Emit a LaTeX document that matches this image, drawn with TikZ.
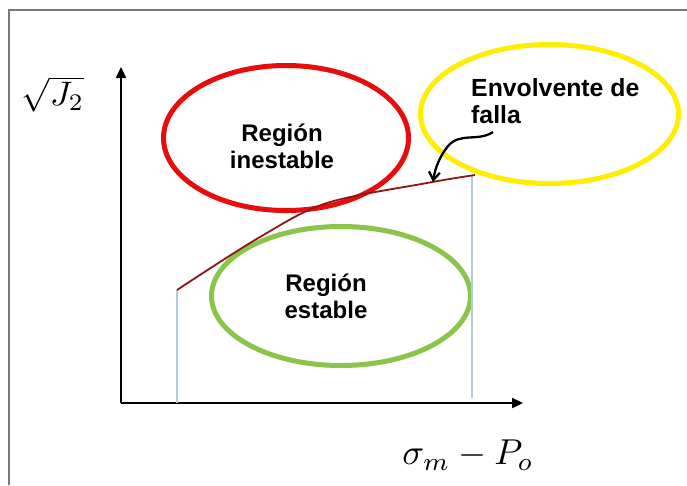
\documentclass[tikz,border=0pt]{standalone}
\usepackage{fontspec}
\setmainfont{Liberation Sans}
\usetikzlibrary{shapes.geometric,arrows.meta}
\definecolor{ellred}{RGB}{232,12,12}
\definecolor{ellyellow}{RGB}{255,238,0}
\definecolor{ellgreen}{RGB}{138,196,72}
\definecolor{curvered}{RGB}{140,22,22}
\definecolor{guideblue}{RGB}{175,208,218}
\definecolor{framegray}{RGB}{120,120,120}
\begin{document}
\begin{tikzpicture}[x=1pt,y=-1pt,
  region/.style={ellipse,draw,line width=5pt,inner sep=0pt},
  lbl/.style={font=\bfseries\fontsize{24}{27}\selectfont,inner sep=0pt},
  axis/.style={line width=2.3pt,-{Triangle[length=11pt,width=10pt]}},
  guide/.style={guideblue,line width=1.2pt}]
\useasboundingbox (0,0) rectangle (687,485);
\fill[white] (0,0) rectangle (687,485);
% frame
\coordinate (fTL) at (9,10);
\coordinate (fTR) at (687,10);
\coordinate (fBL) at (9,485);
\draw[framegray,line width=1.5pt] (fTR) -- (fTL) -- (fBL);
% regions
\node[region,ellred,minimum width=245,minimum height=145] (red) at (286,138) {};
\node[region,ellyellow,minimum width=258,minimum height=139] (yellow) at (549.5,114) {};
\node[region,ellgreen,minimum width=259,minimum height=139] (green) at (341,296) {};
% axes
\coordinate (O) at (121,403);
\coordinate (ytip) at (121,67);
\coordinate (xtip) at (523,403);
\draw[axis] (O) -- (ytip);
\draw[axis] (O) -- (xtip);
% failure envelope
\coordinate (c0) at (177,290);
\coordinate (c1) at (475,175);
\coordinate (b0) at (177,403);
\coordinate (b1) at (472,398);
\coordinate (c1v) at (472,176);
\draw[guide] (c0) -- (b0);
\draw[guide] (c1v) -- (b1);
\draw[curvered,line width=1.8pt] plot[smooth,tension=0.55] coordinates {(177,290) (260,237) (327,203) (427,183) (475,175)};
% labels
\node[lbl,align=center] (tin) at (282,146) {Región\\inestable};
\node[lbl,align=center] (tst) at (326,296) {Región\\estable};
\node[lbl,align=left,anchor=west,font=\bfseries\fontsize{24.8}{27}\selectfont] (tenv) at (471,101) {Envolvente de\\falla};
\coordinate (hit) at (433,182);
\draw[line width=2.3pt,-{Straight Barb[length=8pt,width=11pt]}] (493,132) .. controls (478,142) and (460,132) .. (448,146) .. controls (440,156) and (435,168) .. (hit);
\node[scale=3.4,inner sep=0pt] (jlab) at (53,94) {$\sqrt{J_2}$};
\node[scale=3.6,inner sep=0pt] (slab) at (468,455) {$\sigma_m-P_o$};
\end{tikzpicture}
\end{document}
